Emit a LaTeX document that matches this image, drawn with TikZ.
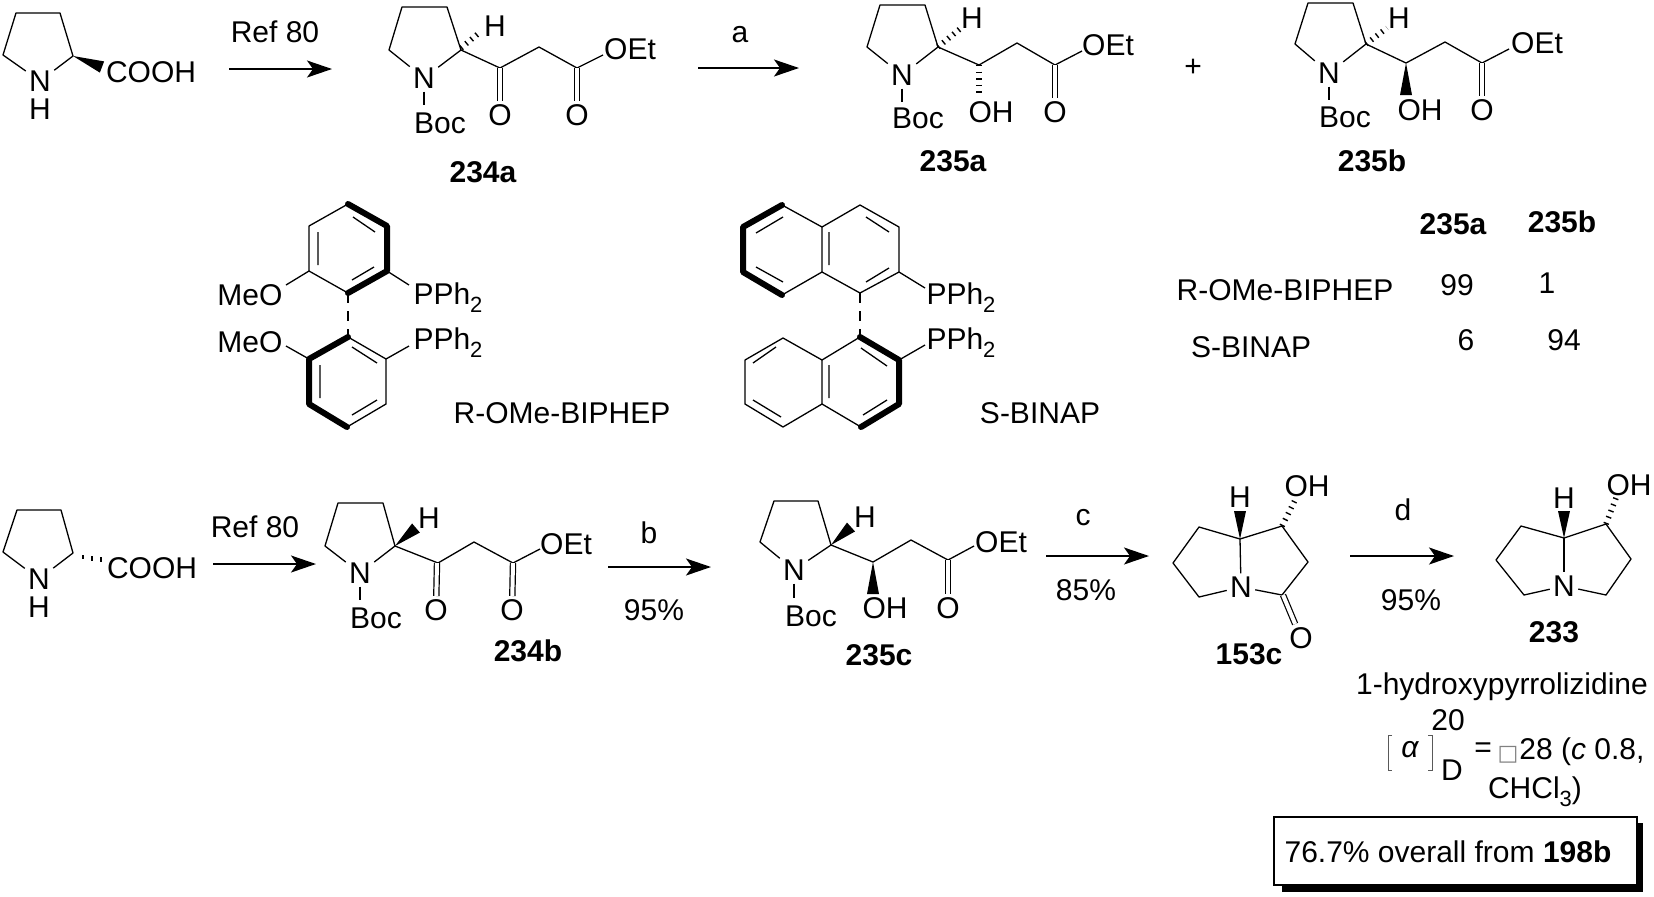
\documentclass[tikz,border=0pt]{standalone}
\usepackage{fontspec}
\setmainfont{Liberation Sans}
\newfontfamily\dejavu{DejaVu Sans}
\usetikzlibrary{calc,arrows.meta}
\newcommand{\subtwo}[1]{\raisebox{-4pt}{\fontsize{11}{11}\selectfont #1}}
\newcommand{\wedgeb}[3][3pt]{\fill #2 -- ($#3!#1!90:#2$) -- ($#3!#1!-90:#2$) -- cycle;}
\tikzset{
 every node/.style={font=\fontsize{15}{18}\selectfont,inner sep=1.5pt},
 bond/.style={line width=.65pt,line join=round},
 thickb/.style={line width=3pt,line join=round,line cap=round},
 dbl/.style={line width=.6pt,double,double distance=2pt},
 hashb/.style={line width=2.8pt,dash pattern=on .7pt off 2.6pt},
 dashb/.style={line width=.65pt,dash pattern=on 5pt off 4pt},
 rxn/.style={line width=.75pt,-{Stealth[length=12.5pt,width=8.5pt,inset=3pt]}},
 cpd/.style={font=\fontsize{15}{18}\selectfont\bfseries},
}
\begin{document}
\begin{tikzpicture}[x=.5pt,y=-.5pt]
\useasboundingbox (0,0) rectangle (1654,896);

% proline top
\node (aN) at (40,81) {N};
\node (aH) at (40,109) {H};
\node (aCOOH) at (151,72) {COOH};
\draw[bond] (aN) -- (3,55) -- (16,13) -- (60,13) -- (73,56) -- (aN);
\wedgeb{(73,56)}{(102,67)}
\coordinate (r1s) at (229,69); \coordinate (r1e) at (332,69);
\draw[rxn] (r1s) -- (r1e);
\node (r1t) at (275,32) {Ref 80};

% 234a
\node (bN) at (424,78) {N};
\node (bBoc) at (440,123) {Boc};
\node (bH) at (495,26) {H};
\node (bOEt) at (630,49) {OEt};
\node (bO1) at (500,115) {O};
\node (bO2) at (577,115) {O};
\node[cpd] (bL) at (483,172) {234a};
\draw[bond] (bN) -- (389,50) -- (402,7) -- (447,7) -- (461,50) -- (bN);
\draw[bond] (461,50) -- (500,68) -- (539,47) -- (577,68) -- ++(26,-13);
\draw[dbl] (500,68) -- (bO1);
\draw[dbl] (577,68) -- (bO2);
\draw[bond] (bN) -- (424,105);
\draw[hashb] (461,48) -- (479,33);
\coordinate (r2s) at (698,68); \coordinate (r2e) at (799,68);
\draw[rxn] (r2s) -- (r2e);
\node (r2t) at (740,35) {a};

% 235a
\node (cN) at (902,75) {N};
\node (cBoc) at (918,118) {Boc};
\node (cH) at (972,18) {H};
\node (cOEt) at (1108,45) {OEt};
\node (cOH) at (991,112) {OH};
\node (cO) at (1055,112) {O};
\node[cpd] (cL) at (953,161) {235a};
\draw[bond] (cN) -- (867,47) -- (880,5) -- (925,5) -- (938,47) -- (cN);
\draw[bond] (938,47) -- (979,65) -- (1017,43) -- (1055,65) -- ++(27,-14);
\draw[dbl] (1055,65) -- (cO);
\draw[bond] (cN) -- (902,102);
\draw[hashb] (938,47) -- (961,28);
\draw[hashb] (979,65) -- (979,95);
\node (plus) at (1193,68) {+};

% 235b
\node (dN) at (1329,73) {N};
\node (dBoc) at (1345,117) {Boc};
\node (dH) at (1399,18) {H};
\node (dOEt) at (1537,43) {OEt};
\node (dOH) at (1420,110) {OH};
\node (dO) at (1482,110) {O};
\node[cpd] (dL) at (1372,161) {235b};
\draw[bond] (dN) -- (1295,44) -- (1308,3) -- (1353,3) -- (1366,44) -- (dN);
\draw[bond] (1366,44) -- (1406,63) -- (1445,42) -- (1482,63) -- ++(27,-14);
\draw[dbl] (1482,63) -- (dO);
\draw[bond] (dN) -- (1329,100);
\draw[hashb] (1366,44) -- (1387,28);
\wedgeb{(1406,63)}{(1406,95)}

% BIPHEP
\node (eM1) at (250,295) {MeO};
\node (eM2) at (250,342) {MeO};
\node (eP1) at (448,298) {PPh\subtwo{2}};
\node (eP2) at (448,343) {PPh\subtwo{2}};
\node (eL) at (562,413) {R-OMe-BIPHEP};
\draw[bond] (348,204) -- (309,226) -- (309,271) -- (348,293);
\draw[thickb] (348,204) -- (387,226) -- (387,271) -- (348,293);
\draw[bond] (353,217) -- (375,232) (374,267) -- (352,280) (318,232) -- (318,265);
\draw[bond] (309,271) -- (286,285) (387,271) -- (409,285);
\draw[dashb] (348,293) -- (348,337);
\draw[bond] (348,337) -- (386,359) -- (386,404) -- (347,427);
\draw[thickb] (348,337) -- (309,359) -- (309,404) -- (347,427);
\draw[bond] (352,347) -- (377,363) (320,365) -- (320,398) (377,400) -- (352,415);
\draw[bond] (309,359) -- (286,346) (386,359) -- (409,346);

% BINAP
\node (fP1) at (961,298) {PPh\subtwo{2}};
\node (fP2) at (961,343) {PPh\subtwo{2}};
\node (fL) at (1040,413) {S-BINAP};
\draw[thickb] (782,205) -- (743,227) -- (743,272) -- (782,295);
\draw[bond] (822,227) -- (782,205) (782,295) -- (822,272) -- (822,227) -- (860,205) -- (899,227) -- (899,272) -- (860,293) -- (822,272);
\draw[bond] (756,233) -- (783,217) (756,267) -- (783,282) (829,232) -- (829,265) (866,217) -- (889,232) (889,268) -- (866,282);
\draw[bond] (899,272) -- (925,288);
\draw[dashb] (860,293) -- (860,337);
\draw[thickb] (860,337) -- (899,360) -- (899,404) -- (861,427);
\draw[bond] (860,337) -- (822,360) -- (783,338) -- (745,360) -- (745,404) -- (783,427) -- (822,404) -- (861,427) (822,404) -- (822,360);
\draw[bond] (753,363) -- (776,347) (753,400) -- (781,417) (829,365) -- (829,398) (861,348) -- (887,366) (887,400) -- (863,415);
\draw[bond] (899,360) -- (925,345);

% table
\node[cpd] (t1) at (1453,224) {235a};
\node[cpd] (t2) at (1562,222) {235b};
\node (t3) at (1285,290) {R-OMe-BIPHEP};
\node (t4) at (1457,285) {99};
\node (t5) at (1547,283) {1};
\node (t6) at (1251,347) {S-BINAP};
\node (t7) at (1466,340) {6};
\node (t8) at (1564,340) {94};

% proline bottom
\node (gN) at (39,579) {N};
\node (gH) at (39,607) {H};
\node (gCOOH) at (152,568) {COOH};
\draw[bond] (gN) -- (3,552) -- (17,510) -- (61,510) -- (73,553) -- (gN);
\draw[bond] (83,555) -- (83,559) (92,556) -- (92,561) (101,557) -- (101,562);
\coordinate (r3s) at (213,564); \coordinate (r3e) at (316,564);
\draw[rxn] (r3s) -- (r3e);
\node (r3t) at (255,527) {Ref 80};

% 234b
\node (hN) at (360,573) {N};
\node (hBoc) at (376,618) {Boc};
\node (hH) at (429,518) {H};
\node (hOEt) at (566,544) {OEt};
\node (hO1) at (436,610) {O};
\node (hO2) at (512,610) {O};
\node[cpd] (hL) at (528,651) {234b};
\draw[bond] (hN) -- (325,546) -- (338,503) -- (383,503) -- (395,546) -- (hN);
\draw[bond] (395,546) -- (438,563) -- (474,542) -- (513,563) -- ++(27,-14);
\draw[dbl] (437,563) -- (hO1);
\draw[dbl] (513,563) -- (hO2);
\draw[bond] (hN) -- (360,600);
\wedgeb{(395,546)}{(416,528)}
\coordinate (r4s) at (608,567); \coordinate (r4e) at (711,567);
\draw[rxn] (r4s) -- (r4e);
\node (r4t) at (649,533) {b};
\node (r4b) at (654,610) {95\%};

% 235c
\node (iN) at (794,570) {N};
\node (iBoc) at (811,616) {Boc};
\node (iH) at (865,517) {H};
\node (iOEt) at (1001,542) {OEt};
\node (iOH) at (885,608) {OH};
\node (iO) at (948,608) {O};
\node[cpd] (iL) at (879,655) {235c};
\draw[bond] (iN) -- (760,542) -- (774,501) -- (818,501) -- (831,545) -- (iN);
\draw[bond] (831,545) -- (873,562) -- (911,540) -- (948,560) -- ++(26,-14);
\draw[dbl] (948,560) -- (iO);
\draw[bond] (iN) -- (794,598);
\wedgeb{(831,545)}{(851,527)}
\wedgeb{(873,562)}{(873,594)}
\coordinate (r5s) at (1046,556); \coordinate (r5e) at (1149,556);
\draw[rxn] (r5s) -- (r5e);
\node (r5t) at (1083,518) {c};
\node (r5b) at (1086,590) {85\%};

% 153c
\node (jN) at (1241,587) {N};
\node (jH) at (1240,497) {H};
\node (jOH) at (1307,486) {OH};
\node (jO) at (1301,638) {O};
\node[cpd] (jL) at (1249,654) {153c};
\draw[bond] (jN) -- (1199,597) -- (1173,563) -- (1199,527) -- (1240,539) -- (1282,526) -- (1308,562) -- (1282,595) -- (jN);
\draw[bond] (1240,539) -- (jN);
\draw[dbl] (1283,595) -- (jO);
\wedgeb{(1240,539)}{(1240,511)}
\draw[hashb] (1282,526) -- (1295,500);
\coordinate (r6s) at (1350,556); \coordinate (r6e) at (1454,556);
\draw[rxn] (r6s) -- (r6e);
\node (r6t) at (1403,510) {d};
\node (r6b) at (1411,600) {95\%};

% 233
\node (kN) at (1564,586) {N};
\node (kH) at (1564,498) {H};
\node (kOH) at (1629,485) {OH};
\node[cpd] (kL) at (1554,632) {233};
\draw[bond] (kN) -- (1524,595) -- (1496,560) -- (1521,526) -- (1564,538) -- (1606,524) -- (1631,559) -- (1606,595) -- (kN);
\draw[bond] (1564,538) -- (kN);
\wedgeb{(1564,538)}{(1564,511)}
\draw[hashb] (1606,524) -- (1616,498);

% optical rotation
\node (m1) at (1502,687) {1-hydroxypyrrolizidine};
\node (m2) at (1448,720) {20};
\draw[line width=.4pt,black!65] (1392,735) -- (1388,735) -- (1388,770) -- (1392,770);
\draw[line width=.4pt,black!65] (1428,735) -- (1432,735) -- (1432,770) -- (1428,770);
\node (m3) at (1410,750) {\itshape α};
\node (m4) at (1452,770) {D};
\node (m5) at (1483,750) {=};
\node[text=gray] (m6) at (1508,755) {\dejavu\fontsize{11}{11}\selectfont □};
\node[anchor=west] (m7) at (1516,752) {28 (\textit{c} 0.8,};
\node (m8) at (1535,792) {CHCl\subtwo{3})};

% box
\fill (1282,823) rectangle (1643,892);
\draw[line width=.6pt,fill=white] (1274,817) rectangle (1637,885);
\node (m9) at (1448,852) {76.7\% overall from \textbf{198b}};
\end{tikzpicture}
\end{document}
